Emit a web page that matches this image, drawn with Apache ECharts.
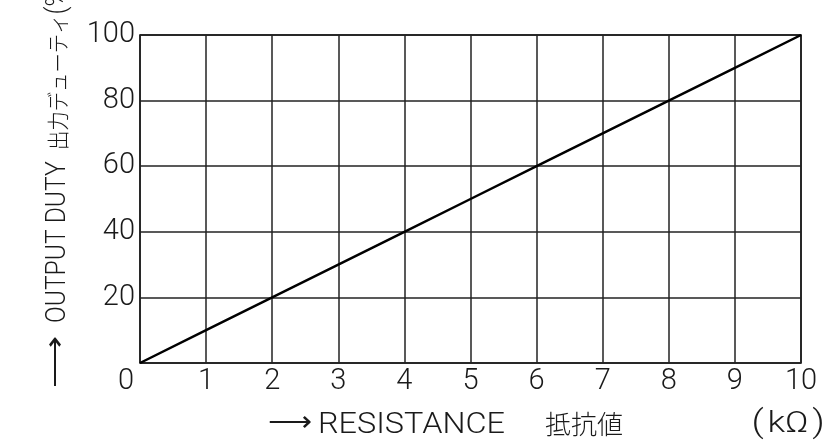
<!DOCTYPE html>
<html><head><meta charset="utf-8">
<script src="https://cdn.jsdelivr.net/npm/echarts@6/dist/echarts.min.js"></script>
<style>html,body{margin:0;padding:0;background:#fff}#c{width:832px;height:443px}</style>
</head><body><div id="c"></div>
<script>
const resistance = [0, 1, 2, 3, 4, 5, 6, 7, 8, 9, 10];
const duty = [0, 10, 20, 30, 40, 50, 60, 70, 80, 90, 100];
const arrow = '⟶';
const xTitle = 'RESISTANCE';
const xTitleJa = '抵抗値';
const xUnit = ['(', 'kΩ', ')'];
const yTitle = 'OUTPUT DUTY ';
const yTitleJa = '出力デューティ';
const yUnit = '(%)';

const LAT = 'Roboto, "DejaVu Sans", sans-serif';
const CJK = '"Noto Sans CJK JP", sans-serif';
const INK = '#1a1a1a';
const chart = echarts.init(document.getElementById('c'));
chart.setOption({
  animation: false,
  backgroundColor: '#fff',
  grid: { left: 140, right: 31, top: 35, bottom: 80, show: true, borderColor: '#000', borderWidth: 1.5 },
  xAxis: {
    type: 'value', min: 0, max: 10, interval: 1,
    axisLine: { show: false }, axisTick: { show: false },
    splitLine: { show: true, lineStyle: { color: '#222', width: 1.5 } },
    axisLabel: {
      margin: 4, color: INK, fontFamily: LAT, fontWeight: 300, fontSize: 29,
      formatter: v => v === 0 ? '{z|0}' : String(v),
      rich: { z: { padding: [0, 28, 0, 0], fontFamily: LAT, fontWeight: 300, fontSize: 29, color: INK } }
    }
  },
  yAxis: {
    type: 'value', min: 0, max: 100, interval: 20,
    axisLine: { show: false }, axisTick: { show: false },
    splitLine: { show: true, lineStyle: { color: '#222', width: 1.5 } },
    axisLabel: {
      margin: 5, color: INK, fontFamily: LAT, fontWeight: 300, fontSize: 29,
      showMinLabel: false
    }
  },
  series: [{
    type: 'line', data: resistance.map((r, i) => [r, duty[i]]),
    showSymbol: false, lineStyle: { color: '#000', width: 2.5 }
  }],
  graphic: [
    { type: 'text', x: 268, y: 424, scaleX: 1.1,
      style: { text: arrow, font: '300 28px "DejaVu Sans"', fill: INK, align: 'left', verticalAlign: 'middle' } },
    { type: 'text', x: 318, y: 425, scaleX: 1.08,
      style: { text: xTitle, font: '300 30px ' + LAT, fill: INK, align: 'left', verticalAlign: 'middle' } },
    { type: 'text', x: 545, y: 424,
      style: { text: xTitleJa, font: '300 26px ' + CJK, fill: INK, align: 'left', verticalAlign: 'middle' } },
    { type: 'text', x: 748, y: 424, scaleX: 1.2,
      style: {
        text: '{p|' + xUnit[0] + '}{t|' + xUnit[1] + '}{p|' + xUnit[2] + '}',
        align: 'left', verticalAlign: 'middle',
        rich: {
          p: { fontFamily: LAT, fontWeight: 300, fontSize: 32, fill: INK, color: INK, padding: [0, 3, 0, 3] },
          t: { fontFamily: LAT, fontWeight: 300, fontSize: 30, fill: INK, color: INK }
        }
      } },
    { type: 'text', x: 57, y: 388, rotation: Math.PI / 2, scaleX: 1.3,
      style: { text: arrow, font: '300 28px "DejaVu Sans"', fill: INK, align: 'left', verticalAlign: 'middle' } },
    { type: 'text', x: 58, y: 323, rotation: Math.PI / 2, scaleX: 0.88,
      style: {
        text: '{t|' + yTitle + '}{j|' + yTitleJa + '}{t|' + yUnit + '}',
        align: 'left', verticalAlign: 'middle',
        rich: {
          t: { fontFamily: LAT, fontWeight: 300, fontSize: 28, fill: INK, color: INK },
          j: { fontFamily: CJK, fontWeight: 300, fontSize: 22, fill: INK, color: INK, padding: [0, 0, 0, 6] }
        }
      } }
  ]
});
</script></body></html>
